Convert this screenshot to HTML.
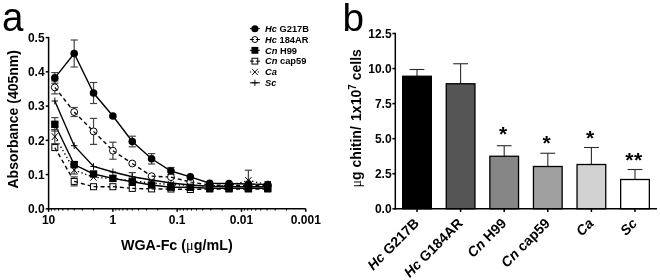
<!DOCTYPE html>
<html><head><meta charset="utf-8"><title>figure</title>
<style>
html,body{margin:0;padding:0;background:#fff;}
svg{display:block}
text{font-family:"Liberation Sans",sans-serif;fill:#000}
.tk{font-size:12px;font-weight:bold}
.ttl{font-size:14px;font-weight:bold}
.sym{font-family:"Liberation Serif","DejaVu Serif",serif;font-weight:normal}
.lg{font-size:9.3px;font-weight:bold}
.pl{font-size:39.5px}
.bl{font-size:14px;font-weight:bold}
.st{font-size:21px;font-weight:bold;letter-spacing:0.6px}
</style></head><body>
<svg width="660" height="280" viewBox="0 0 660 280">
<rect width="660" height="280" fill="#fff"/>
<line x1="48.60" y1="36.85" x2="48.60" y2="209.55" stroke="#000" stroke-width="1.5" />
<line x1="47.85" y1="208.80" x2="305.80" y2="208.80" stroke="#000" stroke-width="1.5" />
<line x1="45.70" y1="208.80" x2="48.60" y2="208.80" stroke="#000" stroke-width="1.5" />
<text x="44.6" y="213.10" text-anchor="end" class="tk">0.0</text>
<line x1="45.70" y1="174.56" x2="48.60" y2="174.56" stroke="#000" stroke-width="1.5" />
<text x="44.6" y="178.86" text-anchor="end" class="tk">0.1</text>
<line x1="45.70" y1="140.32" x2="48.60" y2="140.32" stroke="#000" stroke-width="1.5" />
<text x="44.6" y="144.62" text-anchor="end" class="tk">0.2</text>
<line x1="45.70" y1="106.08" x2="48.60" y2="106.08" stroke="#000" stroke-width="1.5" />
<text x="44.6" y="110.38" text-anchor="end" class="tk">0.3</text>
<line x1="45.70" y1="71.84" x2="48.60" y2="71.84" stroke="#000" stroke-width="1.5" />
<text x="44.6" y="76.14" text-anchor="end" class="tk">0.4</text>
<line x1="45.70" y1="37.60" x2="48.60" y2="37.60" stroke="#000" stroke-width="1.5" />
<text x="44.6" y="41.90" text-anchor="end" class="tk">0.5</text>
<line x1="48.60" y1="208.80" x2="48.60" y2="211.80" stroke="#000" stroke-width="1.5" />
<line x1="93.54" y1="208.80" x2="93.54" y2="210.60" stroke="#000" stroke-width="1.0" />
<line x1="82.22" y1="208.80" x2="82.22" y2="210.60" stroke="#000" stroke-width="1.0" />
<line x1="74.19" y1="208.80" x2="74.19" y2="210.60" stroke="#000" stroke-width="1.0" />
<line x1="67.96" y1="208.80" x2="67.96" y2="210.60" stroke="#000" stroke-width="1.0" />
<line x1="62.86" y1="208.80" x2="62.86" y2="210.60" stroke="#000" stroke-width="1.0" />
<line x1="58.56" y1="208.80" x2="58.56" y2="210.60" stroke="#000" stroke-width="1.0" />
<line x1="54.83" y1="208.80" x2="54.83" y2="210.60" stroke="#000" stroke-width="1.0" />
<line x1="51.54" y1="208.80" x2="51.54" y2="210.60" stroke="#000" stroke-width="1.0" />
<line x1="112.90" y1="208.80" x2="112.90" y2="211.80" stroke="#000" stroke-width="1.5" />
<line x1="157.84" y1="208.80" x2="157.84" y2="210.60" stroke="#000" stroke-width="1.0" />
<line x1="146.52" y1="208.80" x2="146.52" y2="210.60" stroke="#000" stroke-width="1.0" />
<line x1="138.49" y1="208.80" x2="138.49" y2="210.60" stroke="#000" stroke-width="1.0" />
<line x1="132.26" y1="208.80" x2="132.26" y2="210.60" stroke="#000" stroke-width="1.0" />
<line x1="127.16" y1="208.80" x2="127.16" y2="210.60" stroke="#000" stroke-width="1.0" />
<line x1="122.86" y1="208.80" x2="122.86" y2="210.60" stroke="#000" stroke-width="1.0" />
<line x1="119.13" y1="208.80" x2="119.13" y2="210.60" stroke="#000" stroke-width="1.0" />
<line x1="115.84" y1="208.80" x2="115.84" y2="210.60" stroke="#000" stroke-width="1.0" />
<line x1="177.20" y1="208.80" x2="177.20" y2="211.80" stroke="#000" stroke-width="1.5" />
<line x1="222.14" y1="208.80" x2="222.14" y2="210.60" stroke="#000" stroke-width="1.0" />
<line x1="210.82" y1="208.80" x2="210.82" y2="210.60" stroke="#000" stroke-width="1.0" />
<line x1="202.79" y1="208.80" x2="202.79" y2="210.60" stroke="#000" stroke-width="1.0" />
<line x1="196.56" y1="208.80" x2="196.56" y2="210.60" stroke="#000" stroke-width="1.0" />
<line x1="191.46" y1="208.80" x2="191.46" y2="210.60" stroke="#000" stroke-width="1.0" />
<line x1="187.16" y1="208.80" x2="187.16" y2="210.60" stroke="#000" stroke-width="1.0" />
<line x1="183.43" y1="208.80" x2="183.43" y2="210.60" stroke="#000" stroke-width="1.0" />
<line x1="180.14" y1="208.80" x2="180.14" y2="210.60" stroke="#000" stroke-width="1.0" />
<line x1="241.50" y1="208.80" x2="241.50" y2="211.80" stroke="#000" stroke-width="1.5" />
<line x1="286.44" y1="208.80" x2="286.44" y2="210.60" stroke="#000" stroke-width="1.0" />
<line x1="275.12" y1="208.80" x2="275.12" y2="210.60" stroke="#000" stroke-width="1.0" />
<line x1="267.09" y1="208.80" x2="267.09" y2="210.60" stroke="#000" stroke-width="1.0" />
<line x1="260.86" y1="208.80" x2="260.86" y2="210.60" stroke="#000" stroke-width="1.0" />
<line x1="255.76" y1="208.80" x2="255.76" y2="210.60" stroke="#000" stroke-width="1.0" />
<line x1="251.46" y1="208.80" x2="251.46" y2="210.60" stroke="#000" stroke-width="1.0" />
<line x1="247.73" y1="208.80" x2="247.73" y2="210.60" stroke="#000" stroke-width="1.0" />
<line x1="244.44" y1="208.80" x2="244.44" y2="210.60" stroke="#000" stroke-width="1.0" />
<line x1="305.80" y1="208.80" x2="305.80" y2="211.80" stroke="#000" stroke-width="1.5" />
<text x="48.60" y="224.3" text-anchor="middle" class="tk">10</text>
<text x="112.90" y="224.3" text-anchor="middle" class="tk">1</text>
<text x="177.20" y="224.3" text-anchor="middle" class="tk">0.1</text>
<text x="241.50" y="224.3" text-anchor="middle" class="tk">0.01</text>
<text x="305.80" y="224.3" text-anchor="middle" class="tk">0.001</text>
<line x1="54.83" y1="136.60" x2="74.19" y2="170.00" stroke="#000" stroke-width="1.4" stroke-dasharray="1.3 2.6"/>
<line x1="74.19" y1="170.00" x2="93.54" y2="177.30" stroke="#000" stroke-width="1.4" stroke-dasharray="1.3 2.6"/>
<line x1="93.54" y1="177.30" x2="112.90" y2="178.50" stroke="#000" stroke-width="1.4" stroke-dasharray="1.3 2.6"/>
<line x1="112.90" y1="178.50" x2="132.26" y2="181.00" stroke="#000" stroke-width="1.4" stroke-dasharray="1.3 2.6"/>
<line x1="132.26" y1="181.00" x2="151.61" y2="183.00" stroke="#000" stroke-width="1.4" stroke-dasharray="1.3 2.6"/>
<line x1="151.61" y1="183.00" x2="170.97" y2="184.50" stroke="#000" stroke-width="1.4" stroke-dasharray="1.3 2.6"/>
<line x1="170.97" y1="184.50" x2="190.32" y2="185.50" stroke="#000" stroke-width="1.4" stroke-dasharray="1.3 2.6"/>
<line x1="190.32" y1="185.50" x2="209.68" y2="185.80" stroke="#000" stroke-width="1.4" stroke-dasharray="1.3 2.6"/>
<line x1="209.68" y1="185.80" x2="229.04" y2="185.80" stroke="#000" stroke-width="1.4" stroke-dasharray="1.3 2.6"/>
<line x1="229.04" y1="185.80" x2="248.39" y2="180.50" stroke="#000" stroke-width="1.4" stroke-dasharray="1.3 2.6"/>
<line x1="248.39" y1="180.50" x2="267.75" y2="184.50" stroke="#000" stroke-width="1.4" stroke-dasharray="1.3 2.6"/>
<polyline points="54.83,101.00 74.19,145.70 93.54,166.50 112.90,172.00 132.26,176.80 151.61,180.00 170.97,183.00 190.32,185.00 209.68,186.30 229.04,186.60 248.39,186.80 267.75,186.80" fill="none" stroke="#000" stroke-width="1.4"/>
<line x1="54.83" y1="147.60" x2="74.19" y2="181.40" stroke="#000" stroke-width="1.4" stroke-dasharray="4 3"/>
<line x1="74.19" y1="181.40" x2="93.54" y2="186.70" stroke="#000" stroke-width="1.4" stroke-dasharray="4 3"/>
<line x1="93.54" y1="186.70" x2="112.90" y2="186.70" stroke="#000" stroke-width="1.4" stroke-dasharray="4 3"/>
<line x1="112.90" y1="186.70" x2="132.26" y2="188.40" stroke="#000" stroke-width="1.4" stroke-dasharray="4 3"/>
<line x1="132.26" y1="188.40" x2="151.61" y2="188.90" stroke="#000" stroke-width="1.4" stroke-dasharray="4 3"/>
<line x1="151.61" y1="188.90" x2="170.97" y2="189.00" stroke="#000" stroke-width="1.4" stroke-dasharray="4 3"/>
<line x1="170.97" y1="189.00" x2="190.32" y2="189.50" stroke="#000" stroke-width="1.4" stroke-dasharray="4 3"/>
<line x1="190.32" y1="189.50" x2="209.68" y2="189.00" stroke="#000" stroke-width="1.4" stroke-dasharray="4 3"/>
<line x1="209.68" y1="189.00" x2="229.04" y2="189.00" stroke="#000" stroke-width="1.4" stroke-dasharray="4 3"/>
<line x1="229.04" y1="189.00" x2="248.39" y2="189.00" stroke="#000" stroke-width="1.4" stroke-dasharray="4 3"/>
<line x1="248.39" y1="189.00" x2="267.75" y2="189.00" stroke="#000" stroke-width="1.4" stroke-dasharray="4 3"/>
<line x1="54.83" y1="87.40" x2="74.19" y2="112.00" stroke="#000" stroke-width="1.4" stroke-dasharray="4 3"/>
<line x1="74.19" y1="112.00" x2="93.54" y2="131.40" stroke="#000" stroke-width="1.4" stroke-dasharray="4 3"/>
<line x1="93.54" y1="131.40" x2="112.90" y2="150.70" stroke="#000" stroke-width="1.4" stroke-dasharray="4 3"/>
<line x1="112.90" y1="150.70" x2="132.26" y2="163.50" stroke="#000" stroke-width="1.4" stroke-dasharray="4 3"/>
<line x1="132.26" y1="163.50" x2="151.61" y2="176.20" stroke="#000" stroke-width="1.4" stroke-dasharray="4 3"/>
<line x1="151.61" y1="176.20" x2="170.97" y2="177.10" stroke="#000" stroke-width="1.4" stroke-dasharray="4 3"/>
<line x1="170.97" y1="177.10" x2="190.32" y2="182.00" stroke="#000" stroke-width="1.4" stroke-dasharray="4 3"/>
<line x1="190.32" y1="182.00" x2="209.68" y2="185.00" stroke="#000" stroke-width="1.4" stroke-dasharray="4 3"/>
<line x1="209.68" y1="185.00" x2="229.04" y2="185.50" stroke="#000" stroke-width="1.4" stroke-dasharray="4 3"/>
<line x1="229.04" y1="185.50" x2="248.39" y2="185.50" stroke="#000" stroke-width="1.4" stroke-dasharray="4 3"/>
<line x1="248.39" y1="185.50" x2="267.75" y2="185.50" stroke="#000" stroke-width="1.4" stroke-dasharray="4 3"/>
<polyline points="54.83,77.90 74.19,53.50 93.54,93.00 112.90,116.00 132.26,141.50 151.61,158.80 170.97,171.00 190.32,176.90 209.68,183.20 229.04,183.50 248.39,184.00 267.75,184.50" fill="none" stroke="#000" stroke-width="1.4"/>
<polyline points="54.83,124.30 74.19,164.60 93.54,174.00 112.90,178.40 132.26,181.80 151.61,185.00 170.97,187.20 190.32,187.30 209.68,188.30 229.04,188.30 248.39,188.30 267.75,188.30" fill="none" stroke="#000" stroke-width="1.4"/>
<line x1="54.83" y1="129.60" x2="54.83" y2="143.60" stroke="#444" stroke-width="1.2" />
<line x1="51.23" y1="129.60" x2="58.43" y2="129.60" stroke="#444" stroke-width="1.2" />
<line x1="51.23" y1="143.60" x2="58.43" y2="143.60" stroke="#444" stroke-width="1.2" />
<line x1="74.19" y1="166.00" x2="74.19" y2="174.00" stroke="#444" stroke-width="1.2" />
<line x1="70.59" y1="166.00" x2="77.79" y2="166.00" stroke="#444" stroke-width="1.2" />
<line x1="70.59" y1="174.00" x2="77.79" y2="174.00" stroke="#444" stroke-width="1.2" />
<line x1="248.39" y1="170.20" x2="248.39" y2="190.80" stroke="#444" stroke-width="1.2" />
<line x1="244.79" y1="170.20" x2="251.99" y2="170.20" stroke="#444" stroke-width="1.2" />
<line x1="244.79" y1="190.80" x2="251.99" y2="190.80" stroke="#444" stroke-width="1.2" />
<line x1="132.26" y1="172.60" x2="132.26" y2="181.00" stroke="#444" stroke-width="1.2" />
<line x1="128.66" y1="172.60" x2="135.86" y2="172.60" stroke="#444" stroke-width="1.2" />
<line x1="128.66" y1="181.00" x2="135.86" y2="181.00" stroke="#444" stroke-width="1.2" />
<line x1="74.19" y1="176.90" x2="74.19" y2="185.90" stroke="#444" stroke-width="1.2" />
<line x1="70.59" y1="176.90" x2="77.79" y2="176.90" stroke="#444" stroke-width="1.2" />
<line x1="70.59" y1="185.90" x2="77.79" y2="185.90" stroke="#444" stroke-width="1.2" />
<line x1="54.83" y1="80.90" x2="54.83" y2="93.90" stroke="#444" stroke-width="1.2" />
<line x1="51.23" y1="80.90" x2="58.43" y2="80.90" stroke="#444" stroke-width="1.2" />
<line x1="51.23" y1="93.90" x2="58.43" y2="93.90" stroke="#444" stroke-width="1.2" />
<line x1="74.19" y1="107.50" x2="74.19" y2="116.50" stroke="#444" stroke-width="1.2" />
<line x1="70.59" y1="107.50" x2="77.79" y2="107.50" stroke="#444" stroke-width="1.2" />
<line x1="70.59" y1="116.50" x2="77.79" y2="116.50" stroke="#444" stroke-width="1.2" />
<line x1="93.54" y1="118.40" x2="93.54" y2="144.40" stroke="#444" stroke-width="1.2" />
<line x1="89.94" y1="118.40" x2="97.14" y2="118.40" stroke="#444" stroke-width="1.2" />
<line x1="89.94" y1="144.40" x2="97.14" y2="144.40" stroke="#444" stroke-width="1.2" />
<line x1="112.90" y1="142.20" x2="112.90" y2="159.20" stroke="#444" stroke-width="1.2" />
<line x1="109.30" y1="142.20" x2="116.50" y2="142.20" stroke="#444" stroke-width="1.2" />
<line x1="109.30" y1="159.20" x2="116.50" y2="159.20" stroke="#444" stroke-width="1.2" />
<line x1="54.83" y1="72.60" x2="54.83" y2="83.20" stroke="#444" stroke-width="1.2" />
<line x1="51.23" y1="72.60" x2="58.43" y2="72.60" stroke="#444" stroke-width="1.2" />
<line x1="51.23" y1="83.20" x2="58.43" y2="83.20" stroke="#444" stroke-width="1.2" />
<line x1="74.19" y1="40.00" x2="74.19" y2="67.00" stroke="#444" stroke-width="1.2" />
<line x1="70.59" y1="40.00" x2="77.79" y2="40.00" stroke="#444" stroke-width="1.2" />
<line x1="70.59" y1="67.00" x2="77.79" y2="67.00" stroke="#444" stroke-width="1.2" />
<line x1="93.54" y1="82.50" x2="93.54" y2="103.50" stroke="#444" stroke-width="1.2" />
<line x1="89.94" y1="82.50" x2="97.14" y2="82.50" stroke="#444" stroke-width="1.2" />
<line x1="89.94" y1="103.50" x2="97.14" y2="103.50" stroke="#444" stroke-width="1.2" />
<line x1="132.26" y1="136.20" x2="132.26" y2="146.80" stroke="#444" stroke-width="1.2" />
<line x1="128.66" y1="136.20" x2="135.86" y2="136.20" stroke="#444" stroke-width="1.2" />
<line x1="128.66" y1="146.80" x2="135.86" y2="146.80" stroke="#444" stroke-width="1.2" />
<line x1="151.61" y1="153.60" x2="151.61" y2="164.00" stroke="#444" stroke-width="1.2" />
<line x1="148.01" y1="153.60" x2="155.21" y2="153.60" stroke="#444" stroke-width="1.2" />
<line x1="148.01" y1="164.00" x2="155.21" y2="164.00" stroke="#444" stroke-width="1.2" />
<line x1="170.97" y1="167.50" x2="170.97" y2="174.50" stroke="#444" stroke-width="1.2" />
<line x1="167.37" y1="167.50" x2="174.57" y2="167.50" stroke="#444" stroke-width="1.2" />
<line x1="167.37" y1="174.50" x2="174.57" y2="174.50" stroke="#444" stroke-width="1.2" />
<line x1="54.83" y1="117.60" x2="54.83" y2="131.00" stroke="#444" stroke-width="1.2" />
<line x1="51.23" y1="117.60" x2="58.43" y2="117.60" stroke="#444" stroke-width="1.2" />
<line x1="51.23" y1="131.00" x2="58.43" y2="131.00" stroke="#444" stroke-width="1.2" />
<line x1="51.73" y1="133.20" x2="57.93" y2="140.00" stroke="#000" stroke-width="1" />
<line x1="51.73" y1="140.00" x2="57.93" y2="133.20" stroke="#000" stroke-width="1" />
<line x1="71.09" y1="166.60" x2="77.29" y2="173.40" stroke="#000" stroke-width="1" />
<line x1="71.09" y1="173.40" x2="77.29" y2="166.60" stroke="#000" stroke-width="1" />
<line x1="90.44" y1="173.90" x2="96.64" y2="180.70" stroke="#000" stroke-width="1" />
<line x1="90.44" y1="180.70" x2="96.64" y2="173.90" stroke="#000" stroke-width="1" />
<line x1="109.80" y1="175.10" x2="116.00" y2="181.90" stroke="#000" stroke-width="1" />
<line x1="109.80" y1="181.90" x2="116.00" y2="175.10" stroke="#000" stroke-width="1" />
<line x1="129.16" y1="177.60" x2="135.36" y2="184.40" stroke="#000" stroke-width="1" />
<line x1="129.16" y1="184.40" x2="135.36" y2="177.60" stroke="#000" stroke-width="1" />
<line x1="148.51" y1="179.60" x2="154.71" y2="186.40" stroke="#000" stroke-width="1" />
<line x1="148.51" y1="186.40" x2="154.71" y2="179.60" stroke="#000" stroke-width="1" />
<line x1="167.87" y1="181.10" x2="174.07" y2="187.90" stroke="#000" stroke-width="1" />
<line x1="167.87" y1="187.90" x2="174.07" y2="181.10" stroke="#000" stroke-width="1" />
<line x1="187.22" y1="182.10" x2="193.42" y2="188.90" stroke="#000" stroke-width="1" />
<line x1="187.22" y1="188.90" x2="193.42" y2="182.10" stroke="#000" stroke-width="1" />
<line x1="206.58" y1="182.40" x2="212.78" y2="189.20" stroke="#000" stroke-width="1" />
<line x1="206.58" y1="189.20" x2="212.78" y2="182.40" stroke="#000" stroke-width="1" />
<line x1="225.94" y1="182.40" x2="232.14" y2="189.20" stroke="#000" stroke-width="1" />
<line x1="225.94" y1="189.20" x2="232.14" y2="182.40" stroke="#000" stroke-width="1" />
<line x1="245.29" y1="177.10" x2="251.49" y2="183.90" stroke="#000" stroke-width="1" />
<line x1="245.29" y1="183.90" x2="251.49" y2="177.10" stroke="#000" stroke-width="1" />
<line x1="264.65" y1="181.10" x2="270.85" y2="187.90" stroke="#000" stroke-width="1" />
<line x1="264.65" y1="187.90" x2="270.85" y2="181.10" stroke="#000" stroke-width="1" />
<line x1="51.63" y1="101.00" x2="58.03" y2="101.00" stroke="#000" stroke-width="1" />
<line x1="54.83" y1="97.60" x2="54.83" y2="104.40" stroke="#000" stroke-width="1" />
<line x1="70.99" y1="145.70" x2="77.39" y2="145.70" stroke="#000" stroke-width="1" />
<line x1="74.19" y1="142.30" x2="74.19" y2="149.10" stroke="#000" stroke-width="1" />
<line x1="90.34" y1="166.50" x2="96.74" y2="166.50" stroke="#000" stroke-width="1" />
<line x1="93.54" y1="163.10" x2="93.54" y2="169.90" stroke="#000" stroke-width="1" />
<line x1="109.70" y1="172.00" x2="116.10" y2="172.00" stroke="#000" stroke-width="1" />
<line x1="112.90" y1="168.60" x2="112.90" y2="175.40" stroke="#000" stroke-width="1" />
<line x1="129.06" y1="176.80" x2="135.46" y2="176.80" stroke="#000" stroke-width="1" />
<line x1="132.26" y1="173.40" x2="132.26" y2="180.20" stroke="#000" stroke-width="1" />
<line x1="148.41" y1="180.00" x2="154.81" y2="180.00" stroke="#000" stroke-width="1" />
<line x1="151.61" y1="176.60" x2="151.61" y2="183.40" stroke="#000" stroke-width="1" />
<line x1="167.77" y1="183.00" x2="174.17" y2="183.00" stroke="#000" stroke-width="1" />
<line x1="170.97" y1="179.60" x2="170.97" y2="186.40" stroke="#000" stroke-width="1" />
<line x1="187.12" y1="185.00" x2="193.52" y2="185.00" stroke="#000" stroke-width="1" />
<line x1="190.32" y1="181.60" x2="190.32" y2="188.40" stroke="#000" stroke-width="1" />
<line x1="206.48" y1="186.30" x2="212.88" y2="186.30" stroke="#000" stroke-width="1" />
<line x1="209.68" y1="182.90" x2="209.68" y2="189.70" stroke="#000" stroke-width="1" />
<line x1="225.84" y1="186.60" x2="232.24" y2="186.60" stroke="#000" stroke-width="1" />
<line x1="229.04" y1="183.20" x2="229.04" y2="190.00" stroke="#000" stroke-width="1" />
<line x1="245.19" y1="186.80" x2="251.59" y2="186.80" stroke="#000" stroke-width="1" />
<line x1="248.39" y1="183.40" x2="248.39" y2="190.20" stroke="#000" stroke-width="1" />
<line x1="264.55" y1="186.80" x2="270.95" y2="186.80" stroke="#000" stroke-width="1" />
<line x1="267.75" y1="183.40" x2="267.75" y2="190.20" stroke="#000" stroke-width="1" />
<rect x="51.83" y="144.60" width="6.0" height="6.0" fill="#fff" stroke="#000" stroke-width="1"/>
<line x1="54.83" y1="147.60" x2="56.32" y2="150.20" stroke="#000" stroke-width="1.2" />
<rect x="71.19" y="178.40" width="6.0" height="6.0" fill="#fff" stroke="#000" stroke-width="1"/>
<line x1="74.19" y1="181.40" x2="77.08" y2="182.19" stroke="#000" stroke-width="1.2" />
<rect x="90.54" y="183.70" width="6.0" height="6.0" fill="#fff" stroke="#000" stroke-width="1"/>
<line x1="93.54" y1="186.70" x2="96.54" y2="186.70" stroke="#000" stroke-width="1.2" />
<rect x="109.90" y="183.70" width="6.0" height="6.0" fill="#fff" stroke="#000" stroke-width="1"/>
<line x1="112.90" y1="186.70" x2="115.89" y2="186.96" stroke="#000" stroke-width="1.2" />
<rect x="129.26" y="185.40" width="6.0" height="6.0" fill="#fff" stroke="#000" stroke-width="1"/>
<line x1="132.26" y1="188.40" x2="135.26" y2="188.48" stroke="#000" stroke-width="1.2" />
<rect x="148.61" y="185.90" width="6.0" height="6.0" fill="#fff" stroke="#000" stroke-width="1"/>
<line x1="151.61" y1="188.90" x2="154.61" y2="188.92" stroke="#000" stroke-width="1.2" />
<rect x="167.97" y="186.00" width="6.0" height="6.0" fill="#fff" stroke="#000" stroke-width="1"/>
<line x1="170.97" y1="189.00" x2="173.97" y2="189.08" stroke="#000" stroke-width="1.2" />
<rect x="187.32" y="186.50" width="6.0" height="6.0" fill="#fff" stroke="#000" stroke-width="1"/>
<line x1="190.32" y1="189.50" x2="193.32" y2="189.42" stroke="#000" stroke-width="1.2" />
<rect x="206.68" y="186.00" width="6.0" height="6.0" fill="#fff" stroke="#000" stroke-width="1"/>
<line x1="209.68" y1="189.00" x2="212.68" y2="189.00" stroke="#000" stroke-width="1.2" />
<rect x="226.04" y="186.00" width="6.0" height="6.0" fill="#fff" stroke="#000" stroke-width="1"/>
<line x1="229.04" y1="189.00" x2="232.04" y2="189.00" stroke="#000" stroke-width="1.2" />
<rect x="245.39" y="186.00" width="6.0" height="6.0" fill="#fff" stroke="#000" stroke-width="1"/>
<line x1="248.39" y1="189.00" x2="251.39" y2="189.00" stroke="#000" stroke-width="1.2" />
<rect x="264.75" y="186.00" width="6.0" height="6.0" fill="#fff" stroke="#000" stroke-width="1"/>
<line x1="267.75" y1="189.00" x2="270.75" y2="189.00" stroke="#000" stroke-width="1.2" />
<circle cx="54.83" cy="87.40" r="3.45" fill="#fff" stroke="#000" stroke-width="1"/>
<line x1="54.83" y1="87.40" x2="56.81" y2="89.91" stroke="#000" stroke-width="1.2" />
<circle cx="74.19" cy="112.00" r="3.45" fill="#fff" stroke="#000" stroke-width="1"/>
<line x1="74.19" y1="112.00" x2="76.45" y2="114.27" stroke="#000" stroke-width="1.2" />
<circle cx="93.54" cy="131.40" r="3.45" fill="#fff" stroke="#000" stroke-width="1"/>
<line x1="93.54" y1="131.40" x2="95.81" y2="133.66" stroke="#000" stroke-width="1.2" />
<circle cx="112.90" cy="150.70" r="3.45" fill="#fff" stroke="#000" stroke-width="1"/>
<line x1="112.90" y1="150.70" x2="115.57" y2="152.47" stroke="#000" stroke-width="1.2" />
<circle cx="132.26" cy="163.50" r="3.45" fill="#fff" stroke="#000" stroke-width="1"/>
<line x1="132.26" y1="163.50" x2="134.93" y2="165.26" stroke="#000" stroke-width="1.2" />
<circle cx="151.61" cy="176.20" r="3.45" fill="#fff" stroke="#000" stroke-width="1"/>
<line x1="151.61" y1="176.20" x2="154.81" y2="176.35" stroke="#000" stroke-width="1.2" />
<circle cx="170.97" cy="177.10" r="3.45" fill="#fff" stroke="#000" stroke-width="1"/>
<line x1="170.97" y1="177.10" x2="174.07" y2="177.89" stroke="#000" stroke-width="1.2" />
<circle cx="190.32" cy="182.00" r="3.45" fill="#fff" stroke="#000" stroke-width="1"/>
<line x1="190.32" y1="182.00" x2="193.49" y2="182.49" stroke="#000" stroke-width="1.2" />
<circle cx="209.68" cy="185.00" r="3.45" fill="#fff" stroke="#000" stroke-width="1"/>
<line x1="209.68" y1="185.00" x2="212.88" y2="185.08" stroke="#000" stroke-width="1.2" />
<circle cx="229.04" cy="185.50" r="3.45" fill="#fff" stroke="#000" stroke-width="1"/>
<line x1="229.04" y1="185.50" x2="232.24" y2="185.50" stroke="#000" stroke-width="1.2" />
<circle cx="248.39" cy="185.50" r="3.45" fill="#fff" stroke="#000" stroke-width="1"/>
<line x1="248.39" y1="185.50" x2="251.59" y2="185.50" stroke="#000" stroke-width="1.2" />
<circle cx="267.75" cy="185.50" r="3.45" fill="#fff" stroke="#000" stroke-width="1"/>
<line x1="267.75" y1="185.50" x2="270.95" y2="185.50" stroke="#000" stroke-width="1.2" />
<circle cx="54.83" cy="77.90" r="3.8" fill="#000"/>
<circle cx="74.19" cy="53.50" r="3.8" fill="#000"/>
<circle cx="93.54" cy="93.00" r="3.8" fill="#000"/>
<circle cx="112.90" cy="116.00" r="3.8" fill="#000"/>
<circle cx="132.26" cy="141.50" r="3.8" fill="#000"/>
<circle cx="151.61" cy="158.80" r="3.8" fill="#000"/>
<circle cx="170.97" cy="171.00" r="3.8" fill="#000"/>
<circle cx="190.32" cy="176.90" r="3.8" fill="#000"/>
<circle cx="209.68" cy="183.20" r="3.8" fill="#000"/>
<circle cx="229.04" cy="183.50" r="3.8" fill="#000"/>
<circle cx="248.39" cy="184.00" r="3.8" fill="#000"/>
<circle cx="267.75" cy="184.50" r="3.8" fill="#000"/>
<rect x="51.13" y="120.60" width="7.4" height="7.4" fill="#000"/>
<rect x="70.49" y="160.90" width="7.4" height="7.4" fill="#000"/>
<rect x="89.84" y="170.30" width="7.4" height="7.4" fill="#000"/>
<rect x="109.20" y="174.70" width="7.4" height="7.4" fill="#000"/>
<rect x="128.56" y="178.10" width="7.4" height="7.4" fill="#000"/>
<rect x="147.91" y="181.30" width="7.4" height="7.4" fill="#000"/>
<rect x="167.27" y="183.50" width="7.4" height="7.4" fill="#000"/>
<rect x="186.62" y="183.60" width="7.4" height="7.4" fill="#000"/>
<rect x="205.98" y="184.60" width="7.4" height="7.4" fill="#000"/>
<rect x="225.34" y="184.60" width="7.4" height="7.4" fill="#000"/>
<rect x="244.69" y="184.60" width="7.4" height="7.4" fill="#000"/>
<rect x="264.05" y="184.60" width="7.4" height="7.4" fill="#000"/>
<text x="176.8" y="250.2" text-anchor="middle" class="ttl" style="font-size:14.3px">WGA-Fc (<tspan class="sym">μ</tspan>g/mL)</text>
<text transform="translate(17.7,119.3) rotate(-90)" text-anchor="middle" class="ttl">Absorbance (405nm)</text>
<line x1="249.90" y1="28.70" x2="259.90" y2="28.70" stroke="#000" stroke-width="1.0" />
<g transform="translate(254.9,28.70) scale(0.93) translate(-254.9,-28.70)">
<circle cx="254.90" cy="28.70" r="3.8" fill="#000"/>
</g>
<text x="265" y="31.90" class="lg"><tspan font-style="italic">Hc</tspan> G217B</text>
<circle cx="254.90" cy="39.52" r="3.0" fill="#fff" stroke="#000" stroke-width="1"/>
<line x1="249.90" y1="39.52" x2="253.90" y2="39.52" stroke="#000" stroke-width="1.0" />
<line x1="255.90" y1="39.52" x2="259.90" y2="39.52" stroke="#000" stroke-width="1.0" />
<text x="265" y="42.72" class="lg"><tspan font-style="italic">Hc</tspan> 184AR</text>
<line x1="249.90" y1="50.34" x2="259.90" y2="50.34" stroke="#000" stroke-width="1.0" />
<g transform="translate(254.9,50.34) scale(0.93) translate(-254.9,-50.34)">
<rect x="251.20" y="46.64" width="7.4" height="7.4" fill="#000"/>
</g>
<text x="265" y="53.54" class="lg"><tspan font-style="italic">Cn</tspan> H99</text>
<rect x="252.00" y="58.26" width="5.8" height="5.8" fill="#fff" stroke="#000" stroke-width="1"/>
<line x1="249.90" y1="61.16" x2="253.90" y2="61.16" stroke="#000" stroke-width="1.0" />
<line x1="255.90" y1="61.16" x2="259.90" y2="61.16" stroke="#000" stroke-width="1.0" />
<text x="265" y="64.36" class="lg"><tspan font-style="italic">Cn</tspan> cap59</text>
<line x1="249.90" y1="71.98" x2="259.90" y2="71.98" stroke="#000" stroke-width="1.0" stroke-dasharray="1.3 2.6"/>
<g transform="translate(254.9,71.98) scale(0.93) translate(-254.9,-71.98)">
<line x1="251.80" y1="68.58" x2="258.00" y2="75.38" stroke="#000" stroke-width="1" />
<line x1="251.80" y1="75.38" x2="258.00" y2="68.58" stroke="#000" stroke-width="1" />
</g>
<text x="265" y="75.18" class="lg"><tspan font-style="italic">Ca</tspan></text>
<line x1="249.90" y1="82.80" x2="259.90" y2="82.80" stroke="#000" stroke-width="1.0" />
<g transform="translate(254.9,82.80) scale(0.93) translate(-254.9,-82.80)">
<line x1="251.70" y1="82.80" x2="258.10" y2="82.80" stroke="#000" stroke-width="1" />
<line x1="254.90" y1="79.40" x2="254.90" y2="86.20" stroke="#000" stroke-width="1" />
</g>
<text x="265" y="86.00" class="lg"><tspan font-style="italic">Sc</tspan></text>
<text transform="translate(2.0,31) scale(0.94,1)" class="pl" style="font-size:41px">a</text>
<text x="342.5" y="31" class="pl" style="font-size:38.8px">b</text>
<line x1="395.30" y1="32.75" x2="395.30" y2="209.55" stroke="#000" stroke-width="1.5" />
<line x1="392.40" y1="208.80" x2="395.30" y2="208.80" stroke="#000" stroke-width="1.5" />
<text x="391.6" y="213.10" text-anchor="end" class="tk">0.0</text>
<line x1="392.40" y1="173.74" x2="395.30" y2="173.74" stroke="#000" stroke-width="1.5" />
<text x="391.6" y="178.04" text-anchor="end" class="tk">2.5</text>
<line x1="392.40" y1="138.68" x2="395.30" y2="138.68" stroke="#000" stroke-width="1.5" />
<text x="391.6" y="142.98" text-anchor="end" class="tk">5.0</text>
<line x1="392.40" y1="103.62" x2="395.30" y2="103.62" stroke="#000" stroke-width="1.5" />
<text x="391.6" y="107.92" text-anchor="end" class="tk">7.5</text>
<line x1="392.40" y1="68.56" x2="395.30" y2="68.56" stroke="#000" stroke-width="1.5" />
<text x="391.6" y="72.86" text-anchor="end" class="tk">10.0</text>
<line x1="392.40" y1="33.50" x2="395.30" y2="33.50" stroke="#000" stroke-width="1.5" />
<text x="391.6" y="37.80" text-anchor="end" class="tk">12.5</text>
<line x1="417.00" y1="69.50" x2="417.00" y2="76.25" stroke="#2a2a2a" stroke-width="1.1" />
<line x1="409.60" y1="69.50" x2="424.40" y2="69.50" stroke="#2a2a2a" stroke-width="1.1" />
<rect x="402.65" y="76.25" width="28.7" height="132.55" fill="#000" stroke="#000" stroke-width="1.3"/>
<line x1="417.00" y1="208.80" x2="417.00" y2="212.00" stroke="#000" stroke-width="1.5" />
<text transform="translate(420.00,224.20) rotate(-45)" text-anchor="end" class="bl"><tspan font-style="italic">Hc</tspan> G217B</text>
<line x1="460.60" y1="63.75" x2="460.60" y2="83.75" stroke="#2a2a2a" stroke-width="1.1" />
<line x1="453.20" y1="63.75" x2="468.00" y2="63.75" stroke="#2a2a2a" stroke-width="1.1" />
<rect x="446.25" y="83.75" width="28.7" height="125.05" fill="#555" stroke="#000" stroke-width="1.3"/>
<line x1="460.60" y1="208.80" x2="460.60" y2="212.00" stroke="#000" stroke-width="1.5" />
<text transform="translate(463.60,224.20) rotate(-45)" text-anchor="end" class="bl"><tspan font-style="italic">Hc</tspan> G184AR</text>
<line x1="504.20" y1="145.75" x2="504.20" y2="156.25" stroke="#2a2a2a" stroke-width="1.1" />
<line x1="496.80" y1="145.75" x2="511.60" y2="145.75" stroke="#2a2a2a" stroke-width="1.1" />
<rect x="489.85" y="156.25" width="28.7" height="52.55" fill="#868686" stroke="#000" stroke-width="1.3"/>
<line x1="504.20" y1="208.80" x2="504.20" y2="212.00" stroke="#000" stroke-width="1.5" />
<text transform="translate(507.20,224.20) rotate(-45)" text-anchor="end" class="bl"><tspan font-style="italic">Cn</tspan> H99</text>
<text x="503.30" y="140.85" text-anchor="middle" class="st">*</text>
<line x1="547.80" y1="153.25" x2="547.80" y2="166.50" stroke="#2a2a2a" stroke-width="1.1" />
<line x1="540.40" y1="153.25" x2="555.20" y2="153.25" stroke="#2a2a2a" stroke-width="1.1" />
<rect x="533.45" y="166.50" width="28.7" height="42.30" fill="#a0a0a0" stroke="#000" stroke-width="1.3"/>
<line x1="547.80" y1="208.80" x2="547.80" y2="212.00" stroke="#000" stroke-width="1.5" />
<text transform="translate(550.80,224.20) rotate(-45)" text-anchor="end" class="bl"><tspan font-style="italic">Cn</tspan> cap59</text>
<text x="546.90" y="150.15" text-anchor="middle" class="st">*</text>
<line x1="591.40" y1="147.50" x2="591.40" y2="164.50" stroke="#2a2a2a" stroke-width="1.1" />
<line x1="584.00" y1="147.50" x2="598.80" y2="147.50" stroke="#2a2a2a" stroke-width="1.1" />
<rect x="577.05" y="164.50" width="28.7" height="44.30" fill="#d2d2d2" stroke="#000" stroke-width="1.3"/>
<line x1="591.40" y1="208.80" x2="591.40" y2="212.00" stroke="#000" stroke-width="1.5" />
<text transform="translate(594.40,224.20) rotate(-45)" text-anchor="end" class="bl"><tspan font-style="italic">Ca</tspan></text>
<text x="590.50" y="144.90" text-anchor="middle" class="st">*</text>
<line x1="635.00" y1="169.50" x2="635.00" y2="179.50" stroke="#2a2a2a" stroke-width="1.1" />
<line x1="627.60" y1="169.50" x2="642.40" y2="169.50" stroke="#2a2a2a" stroke-width="1.1" />
<rect x="620.65" y="179.50" width="28.7" height="29.30" fill="#fff" stroke="#000" stroke-width="1.3"/>
<line x1="635.00" y1="208.80" x2="635.00" y2="212.00" stroke="#000" stroke-width="1.5" />
<text transform="translate(638.00,224.20) rotate(-45)" text-anchor="end" class="bl"><tspan font-style="italic">Sc</tspan></text>
<text x="634.10" y="167.30" text-anchor="middle" class="st">**</text>
<line x1="394.55" y1="208.80" x2="657.00" y2="208.80" stroke="#000" stroke-width="1.5" />
<text transform="translate(360.5,118.3) rotate(-90)" text-anchor="middle" class="ttl"><tspan class="sym">μ</tspan>g chitin/<tspan dx="1.4"> 1x10</tspan><tspan dy="-5" font-size="10">7</tspan><tspan dy="5"> cells</tspan></text>
</svg>
</body></html>
